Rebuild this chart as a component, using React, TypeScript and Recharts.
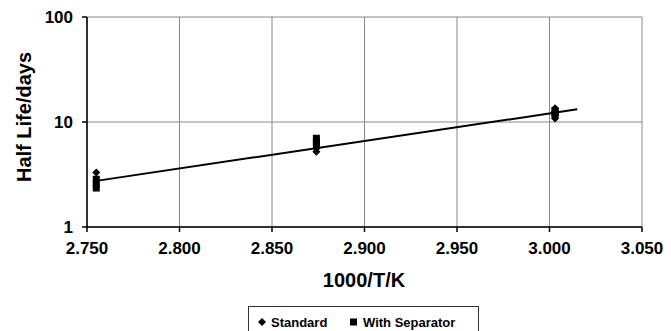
import React from 'react';
import { ComposedChart, Scatter, Line, XAxis, YAxis, CartesianGrid } from 'recharts';

const xTicks = [2.75, 2.8, 2.85, 2.9, 2.95, 3.0, 3.05];
const yTicks = [1, 10, 100];

const standardX = [2.755, 2.874, 2.874, 3.003, 3.003, 3.003, 3.003];
const standardY = [3.3, 5.2, 5.6, 10.8, 11.6, 12.6, 13.5];

const separatorX = [2.755, 2.755, 2.755, 2.874, 2.874, 2.874, 3.003, 3.003, 3.003];
const separatorY = [2.35, 2.6, 2.85, 6.0, 6.5, 7.0, 11.6, 12.2, 12.8];

const trendX = [2.755, 3.015];
const trendY = [2.75, 13.2];

const standardData = standardX.map((x, i) => ({ x, y: standardY[i] }));
const separatorData = separatorX.map((x, i) => ({ x, y: separatorY[i] }));
const trendData = trendX.map((x, i) => ({ x, y: trendY[i] }));

const FONT = '"Liberation Sans", Arial, sans-serif';

const Diamond = (p: any) => {
  const { cx, cy } = p;
  const r = 4;
  return <polygon points={`${cx},${cy - r} ${cx + r},${cy} ${cx},${cy + r} ${cx - r},${cy}`} fill="#000" />;
};

const Square = (p: any) => {
  const { cx, cy } = p;
  const s = 7;
  return <rect x={cx - s / 2} y={cy - s / 2} width={s} height={s} fill="#000" />;
};

export default function App() {
  return (
    <div style={{ position: 'absolute', left: 0, top: 0, width: 671, height: 331, background: '#fff', overflow: 'hidden' }}>
      <ComposedChart width={671} height={331} margin={{ top: 17, right: 29, bottom: 44, left: 0 }}>
        <CartesianGrid stroke="#888" strokeWidth={1} vertical horizontal />
        <XAxis
          type="number"
          dataKey="x"
          domain={[2.75, 3.05]}
          ticks={xTicks}
          allowDataOverflow
          height={60}
          tickSize={5}
          tickMargin={10}
          tickFormatter={(v: number) => v.toFixed(3)}
          tick={{ fill: '#000', fontSize: 17, fontWeight: 'bold', fontFamily: FONT }}
          axisLine={{ stroke: '#000', strokeWidth: 1.5 }}
          tickLine={{ stroke: '#000', strokeWidth: 1.5 }}
          label={{
            content: () => (
              <text x={364} y={287} textAnchor="middle" fontSize={20} fontWeight="bold" fontFamily={FONT} fill="#000">
                1000/T/K
              </text>
            ),
          }}
        />
        <YAxis
          type="number"
          dataKey="y"
          scale="log"
          domain={[1, 100]}
          ticks={yTicks}
          allowDataOverflow
          width={87}
          tickSize={5}
          tickMargin={9}
          tick={{ fill: '#000', fontSize: 17, fontWeight: 'bold', fontFamily: FONT }}
          axisLine={{ stroke: '#000', strokeWidth: 1.5 }}
          tickLine={{ stroke: '#000', strokeWidth: 1.5 }}
          label={{
            content: () => (
              <text
                x={0}
                y={0}
                transform="translate(31,117) rotate(-90)"
                textAnchor="middle"
                fontSize={20}
                fontWeight="bold"
                fontFamily={FONT}
                fill="#000"
              >
                Half Life/days
              </text>
            ),
          }}
        />
        <Line
          data={trendData}
          dataKey="y"
          stroke="#000"
          strokeWidth={2}
          dot={false}
          activeDot={false}
          isAnimationActive={false}
          legendType="none"
        />
        <Scatter data={standardData} dataKey="y" shape={Diamond} isAnimationActive={false} />
        <Scatter data={separatorData} dataKey="y" shape={Square} isAnimationActive={false} />
      </ComposedChart>
      <div
        style={{
          position: 'absolute',
          left: 248,
          top: 306,
          width: 231,
          height: 40,
          border: '1px solid #333',
          boxSizing: 'border-box',
          fontFamily: FONT,
          fontWeight: 'bold',
          fontSize: 13,
          color: '#000',
        }}
      >
        <svg width={231} height={30} style={{ position: 'absolute', left: 0, top: 0 }}>
          <polygon points="13,11 17,15 13,19 9,15" fill="#000" />
          <text x={22} y={19.5} fontSize={13} fontWeight="bold" fontFamily={FONT} fill="#000">Standard</text>
          <rect x={101} y={11.5} width={7} height={7} fill="#000" />
          <text x={114} y={19.5} fontSize={13} fontWeight="bold" fontFamily={FONT} fill="#000">With Separator</text>
        </svg>
      </div>
    </div>
  );
}
